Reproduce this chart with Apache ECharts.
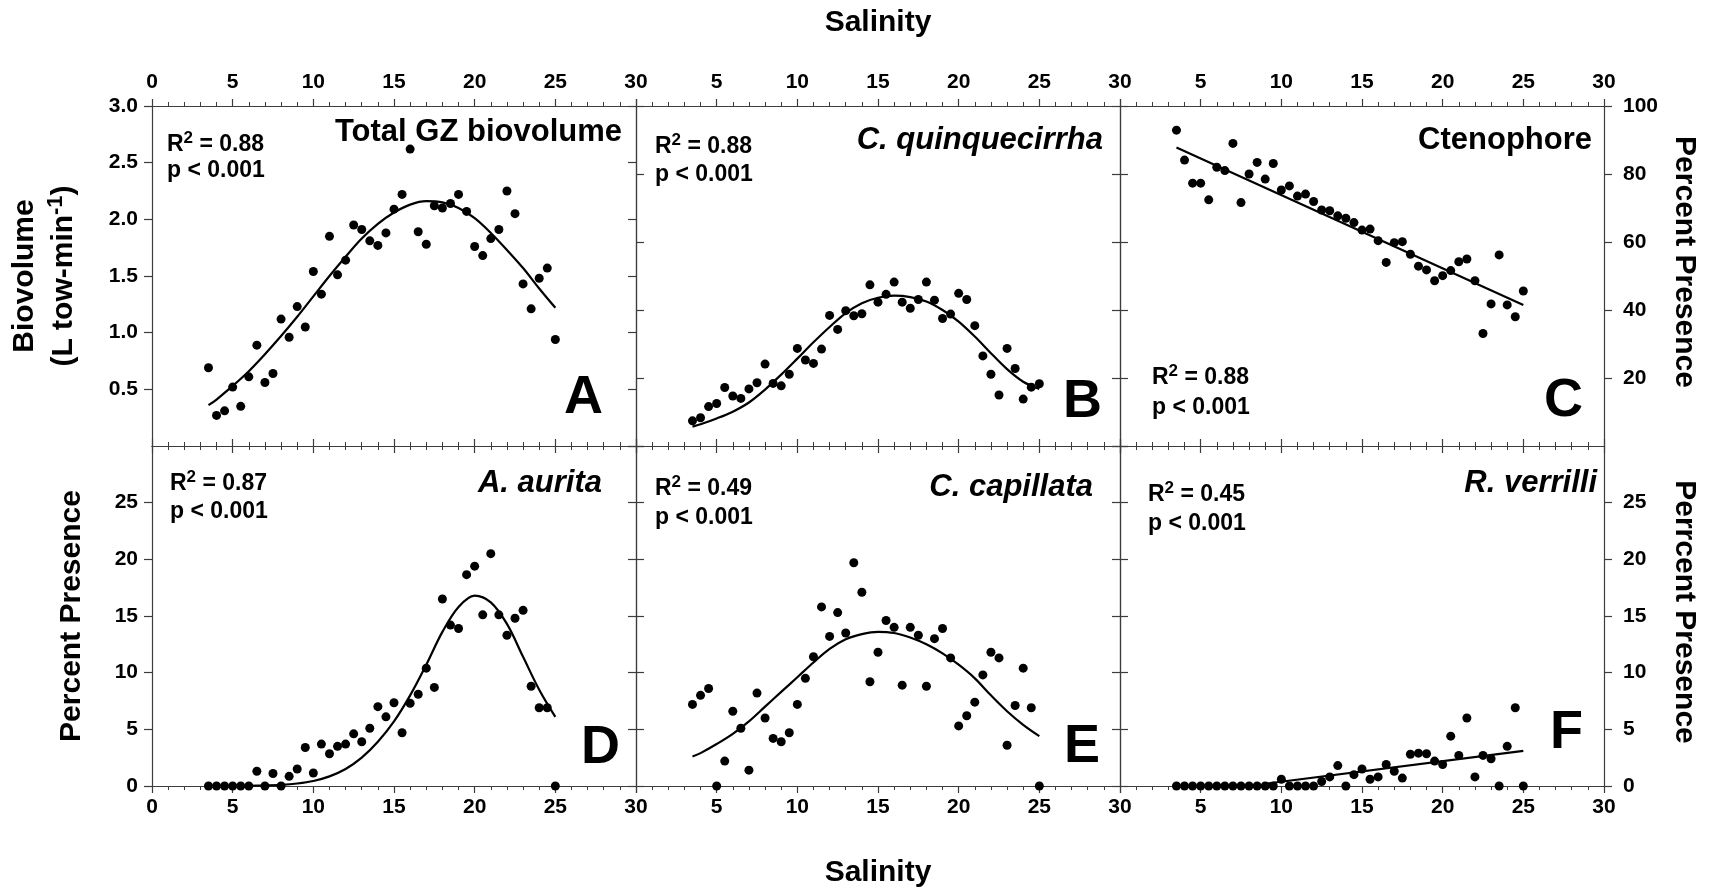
<!DOCTYPE html>
<html>
<head>
<meta charset="utf-8">
<script src="https://cdn.jsdelivr.net/npm/echarts@6/dist/echarts.min.js"></script>
<style>
  html, body { margin: 0; padding: 0; background: #fff; }
  #chart { width: 1717px; height: 888px; }
</style>
</head>
<body>
<div id="chart"></div>
<script>
// Salinity of each sampling bin (shared by all six panels)
const salinity = [3.5, 4, 4.5, 5, 5.5, 6, 6.5, 7, 7.5, 8, 8.5, 9, 9.5, 10, 10.5, 11, 11.5, 12,
  12.5, 13, 13.5, 14, 14.5, 15, 15.5, 16, 16.5, 17, 17.5, 18, 18.5, 19, 19.5, 20, 20.5, 21,
  21.5, 22, 22.5, 23, 23.5, 24, 24.5, 25];

// A: total gelatinous zooplankton biovolume (L tow-min-1)
const gzBiovolume = [0.69, 0.27, 0.31, 0.52, 0.35, 0.61, 0.89, 0.56, 0.64, 1.12, 0.96, 1.23,
  1.05, 1.54, 1.34, 1.85, 1.51, 1.64, 1.95, 1.91, 1.81, 1.77, 1.88, 2.09, 2.22, 2.62, 1.89,
  1.78, 2.12, 2.10, 2.14, 2.22, 2.07, 1.76, 1.68, 1.83, 1.91, 2.25, 2.05, 1.43, 1.21, 1.48,
  1.57, 0.94];
// B-F: percent presence
const quinquecirrha = [7.4, 8.3, 11.6, 12.5, 17.2, 14.7, 14.0, 16.8, 18.6, 24.1, 18.4, 17.7,
  21.1, 28.7, 25.3, 24.3, 28.5, 38.4, 34.3, 39.8, 38.3, 38.9, 47.4, 42.3, 44.6, 48.2, 42.3,
  40.5, 43.1, 48.2, 42.9, 37.5, 38.8, 44.9, 43.1, 35.4, 26.5, 21.1, 15.0, 28.7, 22.8, 13.8,
  17.3, 18.3];
const ctenophore = [92.9, 84.1, 77.3, 77.3, 72.4, 82.0, 81.0, 89.0, 71.6, 80.0, 83.4, 78.5,
  83.1, 75.3, 76.5, 73.5, 74.1, 71.9, 69.4, 69.2, 67.7, 67.0, 65.7, 63.5, 63.8, 60.4, 54.0,
  59.8, 60.1, 56.4, 52.9, 51.8, 48.6, 50.1, 51.6, 54.2, 55.0, 48.6, 33.1, 41.8, 56.2, 41.5,
  38.0, 45.6];
const aurita = [0, 0, 0, 0, 0, 0, 1.3, 0, 1.1, 0, 0.85, 1.5, 3.4, 1.15, 3.7, 2.85, 3.5, 3.7,
  4.6, 3.9, 5.1, 7.0, 6.1, 7.35, 4.7, 7.3, 8.1, 10.4, 8.7, 16.5, 14.2, 13.9, 18.65, 19.4, 15.1,
  20.5, 15.1, 13.3, 14.8, 15.5, 8.8, 6.9, 6.9, 0];
const capillata = [7.2, 8.0, 8.6, 0, 2.2, 6.6, 5.1, 1.4, 8.2, 6.0, 4.2, 3.9, 4.7, 7.2, 9.5,
  11.4, 15.8, 13.2, 15.3, 13.5, 19.7, 17.1, 9.2, 11.8, 14.6, 14.0, 8.9, 14.0, 13.3, 8.8, 13.0,
  13.9, 11.3, 5.3, 6.2, 7.4, 9.8, 11.8, 11.3, 3.6, 7.1, 10.4, 6.9, 0];
const verrilli = [0, 0, 0, 0, 0, 0, 0, 0, 0, 0, 0, 0, 0, 0.6, 0, 0, 0, 0, 0.4, 0.8, 1.8, 0,
  1.0, 1.5, 0.6, 0.8, 1.9, 1.3, 0.7, 2.8, 2.9, 2.85, 2.2, 1.9, 4.4, 2.7, 6.0, 0.8, 2.7, 2.4,
  0, 3.5, 6.9, 0];

// Fitted response curves, [salinity, value]
const gzFit = [[3.5, 0.36], [4, 0.41], [5, 0.53], [6, 0.66], [7, 0.81], [8, 0.97], [9, 1.14],
  [10, 1.32], [11, 1.50], [12, 1.67], [13, 1.83], [14, 1.96], [15, 2.06], [16, 2.13],
  [17, 2.16], [18, 2.15], [19, 2.10], [20, 2.01], [21, 1.88], [22, 1.73], [23, 1.57],
  [24, 1.39], [25, 1.22]];
const quinquecirrhaFit = [[3.5, 5.7], [4, 6.4], [5, 8.1], [6, 10.1], [7, 12.8], [8, 16.6],
  [9, 21.0], [10, 25.7], [11, 30.5], [12, 35.0], [13, 39.1], [14, 42.0], [15, 43.6],
  [16, 44.2], [17, 43.8], [18, 42.5], [19, 40.0], [20, 36.6], [21, 32.2], [22, 27.3],
  [23, 22.6], [24, 18.9], [25, 16.8]];
const ctenophoreFit = [[3.5, 87.8], [25, 41.5]];
const auritaFit = [[3.5, 0], [5, 0], [6, 0.02], [7, 0.05], [8, 0.1], [9, 0.22], [10, 0.44],
  [11, 0.85], [12, 1.5], [13, 2.5], [14, 3.9], [15, 5.7], [16, 8.0], [17, 10.7], [18, 13.6],
  [19, 15.8], [20, 16.8], [21, 16.2], [22, 14.3], [23, 11.4], [24, 8.5], [25, 6.1]];
const capillataFit = [[3.5, 2.6], [4, 2.9], [5, 3.7], [6, 4.6], [7, 5.7], [8, 7.0], [9, 8.3],
  [10, 9.6], [11, 10.9], [12, 12.1], [13, 12.95], [14, 13.4], [15, 13.6], [16, 13.5],
  [17, 13.1], [18, 12.5], [19, 11.7], [20, 10.7], [21, 9.5], [22, 8.0], [23, 6.6],
  [24, 5.4], [25, 4.4]];
const verrilliFit = [[9, 0.2], [25, 3.1]];

// Panel headings and statistics
const panelNames = ['Total GZ biovolume', 'C. quinquecirrha', 'Ctenophore', 'A. aurita', 'C. capillata', 'R. verrilli'];
const panelLetters = ['A', 'B', 'C', 'D', 'E', 'F'];
const rSquared = ['0.88', '0.88', '0.88', '0.87', '0.49', '0.45'];
const pValue = 'p < 0.001';

// Axis scales
const salinityTicks = { min: 0, max: 30, interval: 5 };
const biovolumeTicks = { min: 0, max: 3, interval: 0.5 };
const topPercentTicks = { min: 0, max: 100, interval: 20 };
const bottomPercentTicks = { min: 0, max: 30, interval: 5 };

const FONT = '"Liberation Sans", Arial, Helvetica, sans-serif';
const INK = '#000';
const FRAME = '#3c3c3c';

const panelSeries = [
  { pts: gzBiovolume, fit: gzFit, smooth: 0.35, onRight: false },
  { pts: quinquecirrha, fit: quinquecirrhaFit, smooth: 0.35, onRight: true },
  { pts: ctenophore, fit: ctenophoreFit, smooth: false, onRight: true },
  { pts: aurita, fit: auritaFit, smooth: 0.35, onRight: false },
  { pts: capillata, fit: capillataFit, smooth: 0.35, onRight: false },
  { pts: verrilli, fit: verrilliFit, smooth: false, onRight: false }
];

const colLeft = [152, 636, 1120];
const rowTop = [106, 446];
const PW = 484, PH = 340;

const grid = [], xAxis = [], yAxis = [], series = [];

const labelBase = { color: INK, fontFamily: FONT, fontWeight: 'bold', fontSize: 21 };
const lineBase = { show: true, onZero: false, lineStyle: { color: FRAME, width: 1.2 } };

function yScale(row, side, col) {
  if (row === 1) return bottomPercentTicks;
  if (side === 'right') return topPercentTicks;
  return col === 2 ? topPercentTicks : biovolumeTicks;
}

for (let i = 0; i < 6; i++) {
  const row = Math.floor(i / 3), col = i % 3;
  grid.push({ left: colLeft[col], top: rowTop[row], width: PW, height: PH,
    containLabel: false, outerBoundsMode: 'none' });

  ['bottom', 'top'].forEach(pos => {
    const labelled = (pos === 'top' && row === 0) || (pos === 'bottom' && row === 1);
    xAxis.push({
      gridIndex: i, type: 'value', position: pos,
      min: salinityTicks.min, max: salinityTicks.max, interval: salinityTicks.interval,
      axisLine: lineBase,
      axisTick: { show: true, inside: false, length: 7, lineStyle: { color: FRAME, width: 1.2 } },
      minorTick: { show: true, splitNumber: 5, length: 4, lineStyle: { color: FRAME, width: 1 } },
      splitLine: { show: false },
      axisLabel: Object.assign({}, labelBase, {
        show: labelled, margin: pos === 'top' ? 13 : 11,
        showMinLabel: col === 0, showMaxLabel: true
      })
    });
  });

  ['left', 'right'].forEach(side => {
    const sc = yScale(row, side, col);
    const labelled = (side === 'left' && col === 0) || (side === 'right' && col === 2);
    yAxis.push({
      gridIndex: i, type: 'value', position: side,
      min: sc.min, max: sc.max, interval: sc.interval,
      axisLine: lineBase,
      axisTick: { show: true, inside: false, length: 8, lineStyle: { color: FRAME, width: 1.2 } },
      splitLine: { show: false },
      axisLabel: Object.assign({}, labelBase, {
        show: labelled, margin: side === 'left' ? 14 : 19,
        showMinLabel: row === 1, showMaxLabel: row === 0,
        formatter: sc === biovolumeTicks ? (v => v.toFixed(1)) : (v => String(v))
      })
    });
  });

  const ps = panelSeries[i];
  const yIdx = 2 * i + (ps.onRight ? 1 : 0);
  series.push({
    type: 'line', xAxisIndex: 2 * i, yAxisIndex: yIdx,
    data: ps.fit, smooth: ps.smooth, showSymbol: false, symbol: 'none',
    lineStyle: { color: INK, width: 2.2, opacity: 1 }, z: 2, silent: true
  });
  series.push({
    type: 'scatter', xAxisIndex: 2 * i, yAxisIndex: yIdx,
    data: salinity.map((s, k) => [s, ps.pts[k]]),
    symbol: 'circle', symbolSize: 9, clip: false,
    itemStyle: { color: INK, opacity: 1 }, z: 3, silent: true
  });
}

// Text annotations
function text(x, y, content, o) {
  return {
    type: 'text', x: x, y: y, rotation: o.rotation || 0, z: 10, silent: true,
    style: Object.assign({
      text: content, fill: INK, fontFamily: FONT, fontWeight: 'bold',
      fontSize: o.size || 21, fontStyle: o.italic ? 'italic' : 'normal',
      align: o.align || 'left', verticalAlign: 'middle'
    }, o.rich ? { rich: o.rich } : {})
  };
}
function rText(size) {
  return {
    b: { fontFamily: FONT, fontWeight: 'bold', fontSize: size, lineHeight: size + 8, verticalAlign: 'middle', fill: INK },
    s: { fontFamily: FONT, fontWeight: 'bold', fontSize: Math.round(size * 0.72), lineHeight: size + 8, verticalAlign: 'top', fill: INK }
  };
}

// per-panel positions: [statsX, r2Y, pY, nameRight, nameY, letterRight, letterY]
const annot = [
  [167, 145, 171, 622, 132, 603, 398],
  [655, 147, 175, 1103, 140, 1102, 402],
  [1152, 378, 408, 1592, 140, 1583, 401],
  [170, 484, 512, 602, 483, 620, 748],
  [655, 489, 518, 1093, 487, 1100, 747],
  [1148, 495, 524, 1597, 483, 1583, 733]
];

const graphic = [];
annot.forEach((a, i) => {
  graphic.push(text(a[0], a[1], '{b|R}{s|2}{b| = ' + rSquared[i] + '}', { size: 23, rich: rText(23) }));
  graphic.push(text(a[0], a[2], pValue, { size: 23 }));
  graphic.push(text(a[3], a[4], panelNames[i], { size: 31, align: 'right', italic: i !== 0 && i !== 2 }));
  graphic.push(text(a[5], a[6], panelLetters[i], { size: 54, align: 'right' }));
});

graphic.push(text(878, 23, 'Salinity', { size: 30, align: 'center' }));
graphic.push(text(878, 873, 'Salinity', { size: 30, align: 'center' }));
graphic.push(text(25, 276, 'Biovolume', { size: 30, align: 'center', rotation: Math.PI / 2 }));
graphic.push(text(64, 276, '{b|(L tow-min}{s|-1}{b|)}', { size: 30, align: 'center', rotation: Math.PI / 2, rich: rText(30) }));
graphic.push(text(72, 616, 'Percent Presence', { size: 30, align: 'center', rotation: Math.PI / 2 }));
graphic.push(text(1684, 262, 'Percent Presence', { size: 30, align: 'center', rotation: -Math.PI / 2 }));
graphic.push(text(1684, 612, 'Perrcent Presence', { size: 30, align: 'center', rotation: -Math.PI / 2 }));

const chart = echarts.init(document.getElementById('chart'), null, { renderer: 'canvas' });
chart.setOption({
  backgroundColor: '#fff',
  animation: false,
  grid: grid,
  xAxis: xAxis,
  yAxis: yAxis,
  series: series,
  graphic: graphic
});
</script>
</body>
</html>
